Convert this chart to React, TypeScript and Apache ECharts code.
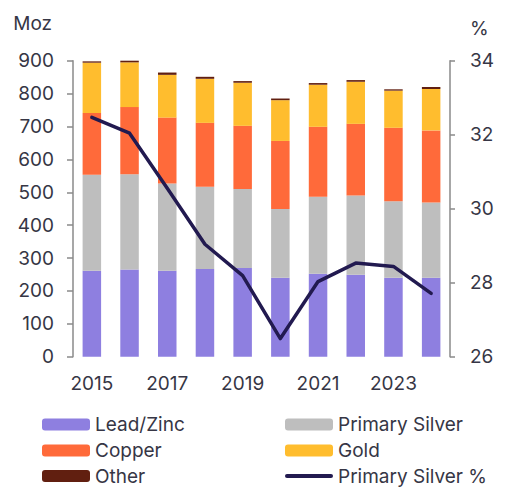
import React, { useEffect, useRef } from "react";
import * as echarts from "echarts";

const years = ["2015", "2016", "2017", "2018", "2019", "2020", "2021", "2022", "2023", "2024"];
const leadZinc = [261, 265, 261, 267, 270, 240, 252, 249, 240, 240];
const primarySilver = [292, 290, 266, 250, 240, 209, 234, 241, 233, 229];
const copper = [188, 204, 200, 194, 192, 207, 213, 218, 223, 219];
const gold = [153, 136, 130, 134, 131, 124, 128, 128, 113, 126];
const other = [4, 5, 7, 6, 5, 5, 5, 5, 4, 6];
const primarySilverPct = [32.47, 32.04, 30.55, 29.04, 28.19, 26.49, 28.03, 28.53, 28.44, 27.71];

const legendLeftColumn = ["Lead/Zinc", "Copper", "Other"];
const legendRightColumn = ["Primary Silver", "Gold", "Primary Silver %"];

const FONT = "Inter, 'Noto Sans', sans-serif";
const TXT = "#363645";
const FS = 19;
const AX = "#8a8a8a";
const LINE_ICON = "path://M2,0 L46,0 A2,2 0 0 1 46,4 L2,4 A2,2 0 0 1 2,0 Z";

export default function App() {
  const ref = useRef<HTMLDivElement>(null);
  useEffect(() => {
    const chart = echarts.init(ref.current!, null, { renderer: "svg" });
    const bar = (name: string, data: number[], color: string) => ({
      name,
      type: "bar",
      stack: "total",
      data,
      barWidth: 18.5,
      itemStyle: { color },
      emphasis: { disabled: true },
    });
    const rowTops = [415, 441, 466.5];
    const makeLegend = (name: string, left: number, top: number) => ({
      data: [name === "Primary Silver %" ? { name, icon: LINE_ICON } : name],
      orient: "horizontal",
      left,
      top,
      padding: 0,
      itemWidth: 48,
      itemHeight: 12,
      textStyle: { color: TXT, fontSize: FS, lineHeight: 17, fontFamily: FONT },
      selectedMode: false,
    });
    const legends = [
      ...legendLeftColumn.map((n, i) => makeLegend(n, 42, rowTops[i])),
      ...legendRightColumn.map((n, i) => makeLegend(n, 285, rowTops[i])),
    ];
    chart.setOption({
      animation: false,
      textStyle: { fontFamily: FONT },
      grid: { left: 73, right: 57, top: 60.7, bottom: 130.3 },
      xAxis: {
        type: "category",
        data: years,
        axisLine: { show: false },
        axisTick: { show: false },
        axisLabel: { interval: 1, color: TXT, fontSize: FS, fontFamily: FONT, margin: 17 },
      },
      yAxis: [
        {
          type: "value",
          min: 0,
          max: 900,
          interval: 100,
          name: "Moz",
          nameLocation: "end",
          nameGap: 28,
          nameTextStyle: { color: TXT, fontSize: FS, fontFamily: FONT, align: "right", padding: [0, 21, 0, 0] },
          axisLine: { show: true, lineStyle: { color: AX, width: 1.5 } },
          axisTick: { show: true, length: 6, lineStyle: { color: AX, width: 1.5 } },
          axisLabel: { color: TXT, fontSize: FS, fontFamily: FONT, margin: 19 },
          splitLine: { show: false },
        },
        {
          type: "value",
          min: 26,
          max: 34,
          interval: 2,
          position: "right",
          name: "%",
          nameLocation: "end",
          nameGap: 23,
          nameTextStyle: { color: TXT, fontSize: FS, fontFamily: FONT, align: "left", padding: [0, 0, 0, 20] },
          axisLine: { show: true, lineStyle: { color: AX, width: 1.5 } },
          axisTick: { show: true, length: 5, lineStyle: { color: AX, width: 1.5 } },
          axisLabel: { color: TXT, fontSize: FS, fontFamily: FONT, margin: 20 },
          splitLine: { show: false },
        },
      ],
      legend: legends,
      series: [
        bar("Lead/Zinc", leadZinc, "#8e7fe0"),
        bar("Primary Silver", primarySilver, "#bebebe"),
        bar("Copper", copper, "#ff6a3a"),
        bar("Gold", gold, "#ffbd2e"),
        bar("Other", other, "#611f10"),
        {
          name: "Primary Silver %",
          type: "line",
          yAxisIndex: 1,
          data: primarySilverPct,
          symbol: "none",
          lineStyle: { color: "#221a50", width: 3.5, cap: "round", join: "round" },
          itemStyle: { color: "#221a50" },
          emphasis: { disabled: true },
        },
      ],
    });
    return () => chart.dispose();
  }, []);
  return <div ref={ref} style={{ width: 507, height: 487, position: "absolute", left: 0, top: 0 }} />;
}
